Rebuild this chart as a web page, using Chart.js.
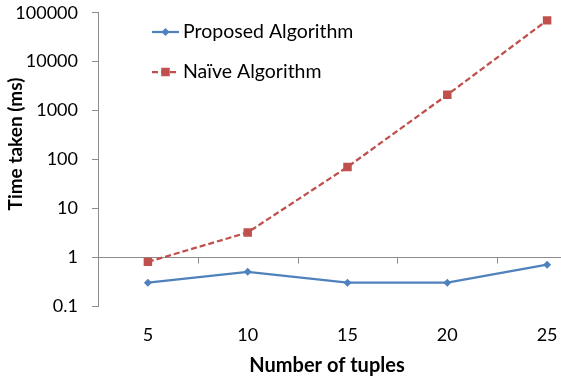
<!DOCTYPE html>
<html>
<head>
<meta charset="utf-8">
<script src="https://cdn.jsdelivr.net/npm/chart.js@4.4.0/dist/chart.umd.min.js"></script>
<style>
  body { margin: 0; background: #fff; }
  #wrap { width: 561px; height: 383px; overflow: hidden; }
  /* plot area runs past the right edge like the cropped original */
  #timeChart { display: block; margin-top: -12px; }
</style>
</head>
<body>
<div id="wrap"><canvas id="timeChart" width="610" height="395"></canvas></div>
<script>
const tuples = ["5", "10", "15", "20", "25"];
const proposedMs = [0.3, 0.5, 0.3, 0.3, 0.7];
const naiveMs = [0.8, 3.2, 70, 2100, 70000];
const yTicks = [0.1, 1, 10, 100, 1000, 10000, 100000];

const FONT = "Lato, 'Open Sans', sans-serif";
const AXIS_GREY = "#8c8c8c";
const BLUE = "#4f81bd";
const RED = "#c0504d";
const SHIFT = 12; // canvas is pulled up by this much

// horizontal axis crosses the value axis at 1 (Excel style), labels stay at the bottom
const crossAxisPlugin = {
  id: "crossAxis",
  beforeDatasetsDraw(chart) {
    const { ctx, chartArea, scales } = chart;
    const y = Math.round(scales.y.getPixelForValue(1)) + 0.5;
    const step = scales.x.getPixelForTick(1) - scales.x.getPixelForTick(0);
    ctx.save();
    ctx.strokeStyle = AXIS_GREY;
    ctx.lineWidth = 1;
    ctx.beginPath();
    ctx.moveTo(chartArea.left, y);
    ctx.lineTo(chartArea.right, y);
    for (let i = 0; i < tuples.length; i++) {
      const x = Math.round(scales.x.getPixelForTick(i) + step / 2) + 0.5;
      ctx.moveTo(x, y);
      ctx.lineTo(x, y + 6);
    }
    ctx.stroke();

    // axis titles
    ctx.translate(0, SHIFT);
    ctx.fillStyle = "#000";
    ctx.textAlign = "center";
    ctx.textBaseline = "middle";
    ctx.font = "bold 20px " + FONT;
    ctx.fillText("Number of tuples", 327, 366);
    ctx.translate(16, 144);
    ctx.rotate(-Math.PI / 2);
    ctx.font = "bold 19px " + FONT;
    ctx.fillText("Time taken (ms)", 0, 0);
    ctx.restore();
  }
};

// legend inside the plot, line sample with marker like Excel
const insideLegend = {
  id: "insideLegend",
  afterDraw(chart) {
    const { ctx } = chart;
    chart.data.datasets.forEach((ds, i) => {
      const y = SHIFT + 32 + i * 40;
      ctx.save();
      ctx.strokeStyle = ds.borderColor;
      ctx.lineWidth = ds.borderWidth;
      ctx.setLineDash(ds.borderDash || []);
      ctx.beginPath();
      ctx.moveTo(152, y);
      ctx.lineTo(179, y);
      ctx.stroke();
      ctx.setLineDash([]);
      ctx.fillStyle = ds.backgroundColor;
      const r = ds.pointRadius;
      ctx.beginPath();
      if (ds.pointStyle === "rect") {
        const s = r / Math.SQRT2;
        ctx.rect(165.5 - s, y - s, 2 * s, 2 * s);
      } else {
        ctx.moveTo(165.5, y - r);
        ctx.lineTo(165.5 + r, y);
        ctx.lineTo(165.5, y + r);
        ctx.lineTo(165.5 - r, y);
        ctx.closePath();
      }
      ctx.fill();
      ctx.fillStyle = "#000";
      ctx.font = "19.5px " + FONT;
      ctx.textAlign = "left";
      ctx.textBaseline = "middle";
      ctx.fillText(ds.label, 183, y);
      ctx.restore();
    });
  }
};

new Chart(document.getElementById("timeChart"), {
  type: "line",
  data: {
    labels: tuples,
    datasets: [
      {
        label: "Proposed Algorithm",
        data: proposedMs,
        borderColor: BLUE,
        backgroundColor: BLUE,
        borderWidth: 2.25,
        pointStyle: "rectRot",
        pointRadius: 4,
        pointBorderWidth: 0,
        tension: 0,
      },
      {
        label: "Naïve Algorithm",
        data: naiveMs,
        borderColor: RED,
        backgroundColor: RED,
        borderWidth: 2.25,
        borderDash: [6, 3],
        pointStyle: "rect",
        pointRadius: 6,
        pointBorderWidth: 0,
        tension: 0,
      },
    ],
  },
  options: {
    responsive: false,
    animation: false,
    layout: { autoPadding: false, padding: { top: 1, right: 13, left: 0, bottom: 0 } },
    plugins: { legend: { display: false }, tooltip: { enabled: false } },
    scales: {
      x: {
        offset: true,
        grid: { display: false },
        border: { display: false },
        ticks: { color: "#000", font: { family: FONT, size: 18 }, padding: 10 },
        afterFit: (s) => { s.height = 77; },
      },
      y: {
        type: "logarithmic",
        min: 0.1,
        max: 100000,
        afterBuildTicks: (s) => { s.ticks = yTicks.map((v) => ({ value: v })); },
        grid: { drawOnChartArea: false, tickLength: 6, color: AXIS_GREY },
        border: { color: AXIS_GREY },
        ticks: {
          color: "#000",
          font: { family: FONT, size: 18 },
          padding: 14,
          callback: (v) => String(v),
        },
        afterFit: (s) => { s.width = 98; },
      },
    },
  },
  plugins: [crossAxisPlugin, insideLegend],
});
</script>
</body>
</html>
